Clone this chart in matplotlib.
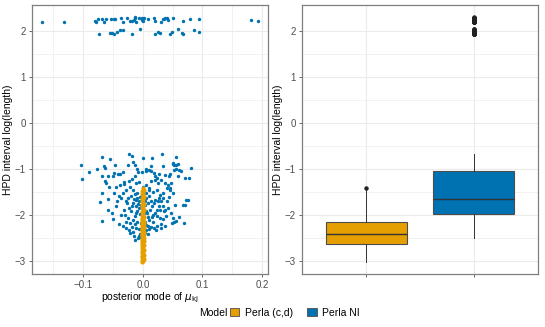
import matplotlib.pyplot as plt
from matplotlib.patches import Patch
import numpy as np

plt.rcParams['font.family'] = ['Liberation Sans', 'DejaVu Sans']
plt.rcParams['mathtext.fontset'] = 'dejavusans'

# Perla NI: posterior modes (x) and log HPD length (y)
ni_upper_x = [-0.169, -0.132, -0.081, -0.079, -0.076, -0.073, -0.069, -0.066, -0.061, -0.055,
              -0.054, -0.052, -0.049, -0.048, -0.046, -0.044, -0.038, -0.036, -0.034, -0.033,
              -0.026, -0.022, -0.018, -0.018, -0.015, -0.014, -0.013, -0.011, -0.006, -0.005,
              -0.002, -0.001, 0.001, 0.002, 0.009, 0.019, 0.020, 0.021, 0.026, 0.029,
              0.031, 0.034, 0.036, 0.038, 0.040, 0.042, 0.046, 0.049, 0.050, 0.059,
              0.066, 0.067, 0.067, 0.079, 0.086, 0.094, 0.095, 0.182, 0.194]
ni_upper_y = [2.20, 2.20, 2.22, 2.19, 2.27, 1.94, 2.27, 2.20, 2.26, 1.96,
              2.27, 1.95, 1.94, 2.27, 2.27, 1.97, 2.03, 2.28, 2.19, 2.03,
              2.29, 2.22, 1.94, 2.22, 2.24, 2.28, 2.30, 2.20, 2.28, 2.04,
              2.28, 2.24, 2.22, 2.28, 2.27, 2.29, 1.94, 2.21, 1.98, 1.95,
              2.20, 2.27, 2.25, 2.28, 2.29, 2.24, 1.94, 1.98, 2.28, 2.04,
              1.96, 1.94, 2.21, 2.27, 2.03, 1.98, 2.27, 2.23, 2.21]

# lower cluster, in (x, y) pairs
ni_lower = [
    (-0.104, -0.92), (-0.102, -1.21), (-0.090, -1.07), (-0.077, -0.99), (-0.068, -0.74),
    (-0.066, -0.94), (-0.064, -0.98), (-0.055, -0.78), (-0.068, -1.14), (-0.059, -1.14),
    (-0.048, -1.09), (-0.047, -0.91), (-0.050, -1.16), (-0.041, -1.10), (-0.038, -1.11),
    (-0.034, -1.07), (-0.032, -1.29), (-0.025, -0.91), (-0.024, -0.68), (-0.018, -0.72),
    (-0.016, -0.84), (-0.014, -0.91), (-0.013, -1.15), (-0.009, -1.00), (-0.008, -1.07),
    (0.000, -0.75), (-0.001, -1.07), (0.005, -1.00), (0.006, -1.05), (0.010, -1.03),
    (0.014, -1.05), (0.014, -0.93), (0.016, -0.77), (0.018, -1.09), (0.021, -1.14),
    (0.023, -1.19), (0.027, -1.10), (0.032, -0.68), (0.034, -0.93), (0.037, -1.13),
    (0.044, -1.14), (0.045, -1.10), (0.047, -1.30), (0.050, -0.86), (0.052, -0.91),
    (0.053, -1.01), (0.055, -0.73), (0.056, -1.00), (0.059, -0.89), (0.059, -1.14),
    (0.061, -1.02), (0.064, -1.05), (0.071, -1.20), (0.077, -1.19), (0.081, -0.97),
    (0.051, -0.88), (0.056, -0.91),
    (-0.064, -1.25), (-0.062, -1.30), (-0.056, -1.38), (-0.069, -1.52), (-0.072, -1.72),
    (-0.059, -1.65), (-0.058, -1.88), (-0.068, -2.12), (-0.050, -2.09), (-0.043, -1.70),
    (-0.040, -1.58), (-0.034, -1.52), (-0.028, -1.45), (-0.021, -1.38), (-0.017, -1.45),
    (-0.020, -1.59), (-0.014, -1.55), (-0.009, -1.52), (-0.027, -1.74), (-0.031, -1.88),
    (-0.037, -1.99), (-0.040, -2.19), (-0.034, -2.23), (-0.028, -2.28), (-0.023, -2.32),
    (-0.017, -2.36), (-0.011, -2.27), (-0.008, -2.50), (-0.006, -2.45), (-0.009, -2.14),
    (-0.014, -2.03), (-0.020, -1.92), (-0.025, -2.07), (-0.029, -2.14), (-0.021, -2.17),
    (-0.017, -2.10), (-0.012, -1.96), (-0.011, -1.81), (-0.007, -1.85), (-0.006, -1.70),
    (-0.010, -1.63), (0.006, -1.34), (0.011, -1.41), (0.017, -1.49), (0.023, -1.45),
    (0.028, -1.56), (0.034, -1.52), (0.040, -1.41), (0.045, -1.41), (0.046, -1.45),
    (0.051, -1.52), (0.067, -1.78), (0.071, -1.78), (0.073, -1.67), (0.075, -1.67),
    (0.054, -1.78), (0.048, -1.96), (0.050, -2.07), (0.039, -2.03), (0.034, -2.09),
    (0.028, -2.07), (0.024, -2.03), (0.017, -2.14), (0.014, -2.25), (0.010, -2.30),
    (0.006, -2.32), (0.006, -2.21), (0.011, -2.10), (0.017, -1.99), (0.023, -1.88),
    (0.008, -1.74), (0.011, -1.59), (0.005, -1.63), (0.006, -1.92), (0.001, -1.85),
    (0.055, -2.12), (0.060, -2.05), (0.069, -2.17), (0.049, -2.17), (0.052, -2.15),
    (0.038, -2.23), (0.029, -1.90), (0.025, -1.70), (0.020, -1.67), (0.034, -1.81),
    (0.040, -1.70), (0.042, -1.85), (0.035, -1.92), (-0.048, -1.52), (-0.045, -1.38),
    (-0.038, -1.34), (-0.031, -1.32), (-0.024, -1.27), (-0.018, -1.22), (-0.011, -1.30),
    (-0.006, -1.29), (0.014, -1.27), (0.020, -1.23), (0.025, -1.30), (0.031, -1.23),
    (0.037, -1.30), (0.042, -1.34), (-0.021, -2.39), (-0.015, -2.45), (-0.013, -2.54),
    (-0.006, -2.30), (-0.003, -2.17), (0.008, -2.23), (0.019, -2.28), (0.022, -2.32),
    (0.024, -2.23), (0.031, -2.20), (-0.029, -1.70), (-0.025, -1.63), (-0.018, -1.81),
    (-0.016, -1.74), (-0.010, -1.92), (0.015, -1.81), (0.018, -1.74), (0.027, -1.63),
    (0.031, -1.70), (0.006, -1.52), (0.010, -1.45), (0.000, -1.38), (-0.004, -1.60),
    (-0.003, -1.78), (-0.004, -1.98), (-0.002, -2.08), (0.003, -2.15), (-0.005, -2.40),
    (0.004, -2.38), (0.003, -1.70), (-0.001, -1.55), (0.007, -1.95), (0.012, -1.88),
    (-0.008, -1.75), (-0.012, -1.68), (0.002, -2.25), (-0.002, -2.33), (0.009, -2.05),
    (-0.045, -1.80), (-0.052, -1.95), (-0.036, -1.62), (-0.030, -2.00), (-0.024, -1.84),
    (-0.019, -2.25), (-0.015, -1.66), (-0.013, -2.20), (0.004, -1.78), (0.008, -2.42),
    (0.013, -1.69), (0.016, -2.05), (0.021, -1.95), (0.027, -1.80), (0.033, -1.62),
    (0.038, -1.90), (0.044, -1.60), (0.030, -2.28), (-0.003, -2.47), (0.002, -1.95),
]
ni_lower_x = [p[0] for p in ni_lower]
ni_lower_y = [p[1] for p in ni_lower]

# Perla (c,d): modes pinned at zero, lengths along a vertical strip
cd_y = [-1.42, -1.45, -1.48, -1.51, -1.54, -1.57, -1.60, -1.63, -1.66, -1.69,
        -1.72, -1.75, -1.78, -1.81, -1.84, -1.87, -1.90, -1.93, -1.96, -1.99,
        -2.02, -2.04, -2.06, -2.08, -2.10, -2.12, -2.14, -2.16, -2.17, -2.18,
        -2.20, -2.21, -2.22, -2.24, -2.25, -2.27, -2.28, -2.30, -2.31, -2.33,
        -2.34, -2.36, -2.37, -2.39, -2.40, -2.41, -2.42, -2.43, -2.45, -2.46,
        -2.48, -2.49, -2.51, -2.52, -2.54, -2.55, -2.57, -2.58, -2.60, -2.62,
        -2.64, -2.66, -2.68, -2.70, -2.72, -2.74, -2.76, -2.78, -2.80, -2.82,
        -2.84, -2.86, -2.88, -2.90, -2.92, -2.94, -2.96, -2.98, -3.00, -3.01]
cd_x = [0.0, 0.0012, -0.0012, 0.0006, -0.0006, 0.0, 0.0012, -0.0012, 0.0006, -0.0006] * 8

# box summaries
models = ['Perla (c,d)', 'Perla NI']
colors = ['#E69F00', '#0072B2']
box_q1 = [-2.62, -1.97]
box_med = [-2.42, -1.65]
box_q3 = [-2.15, -1.05]
box_lo = [-3.01, -2.50]
box_hi = [-1.45, -0.67]
cd_fliers = [-1.42]

fig = plt.figure(figsize=(5.45, 3.27), dpi=100)
axl = fig.add_axes([32/545, 1 - 274/327, 236/545, 269/327])
axr = fig.add_axes([302/545, 1 - 274/327, 236/545, 269/327])

grid_c = '#EBEBEB'
for ax in (axl, axr):
    ax.set_facecolor('white')
    ax.set_axisbelow(True)
    for s in ax.spines.values():
        s.set_color('#7F7F7F')
        s.set_linewidth(0.9)
    ax.tick_params(colors='#4D4D4D', labelsize=7, length=2.5, width=0.6, pad=2)
    ax.set_ylim(-3.28, 2.565)
    ax.set_yticks([-3, -2, -1, 0, 1, 2])
    ax.set_yticklabels(['\u22123', '\u22122', '\u22121', '0', '1', '2'])
    ax.set_yticks([-2.5, -1.5, -0.5, 0.5, 1.5], minor=True)
    ax.tick_params(which='minor', length=0)
    ax.grid(which='major', color=grid_c, lw=0.8)
    ax.grid(which='minor', axis='y', color=grid_c, lw=0.45)
    ax.set_ylabel('HPD interval log(length)', fontsize=7.5, labelpad=1)

# left panel: scatter
axl.scatter(ni_upper_x + ni_lower_x, ni_upper_y + ni_lower_y, s=6, color=colors[1], lw=0)
axl.scatter(cd_x, cd_y, s=9, color=colors[0], lw=0)
axl.set_xlim(-0.186, 0.21)
axl.set_xticks([-0.1, 0.0, 0.1, 0.2])
axl.set_xticklabels(['\u22120.1', '0.0', '0.1', '0.2'])
axl.set_xticks([-0.15, -0.05, 0.05, 0.15], minor=True)
axl.grid(which='minor', axis='x', color=grid_c, lw=0.45)
axl.set_xlabel(r'posterior mode of $\mu_{\mathrm{kj}}$', fontsize=7.5, labelpad=0)

# right panel: boxplots
stats = []
fliers = [cd_fliers, ni_upper_y]
for i in range(2):
    stats.append(dict(med=box_med[i], q1=box_q1[i], q3=box_q3[i],
                      whislo=box_lo[i], whishi=box_hi[i], fliers=fliers[i]))
bp = axr.bxp(stats, positions=[1, 2], widths=0.75, patch_artist=True, showcaps=False,
             boxprops=dict(edgecolor='#4D4D4D', lw=0.8),
             medianprops=dict(color='#333333', lw=1.0),
             whiskerprops=dict(color='#333333', lw=0.7),
             flierprops=dict(marker='o', markersize=2.2, markerfacecolor='#222222',
                             markeredgecolor='#222222'))
for patch, c in zip(bp['boxes'], colors):
    patch.set_facecolor(c)
axr.set_xlim(0.4, 2.6)
axr.set_xticks([1, 2])
axr.set_xticklabels(['', ''])

# legend along the bottom
fig.text(227/545, 1 - 313/327, 'Model', fontsize=7.5, ha='right', va='center')
handles = [Patch(facecolor=c, edgecolor='#4D4D4D', lw=0.6) for c in colors]
fig.legend(handles, models, loc='center left', bbox_to_anchor=(230/545, 1 - 313/327),
           ncol=2, frameon=False, fontsize=7.5, handlelength=0.9, handleheight=0.8,
           handletextpad=0.5, columnspacing=1.4, borderpad=0, borderaxespad=0)

fig.savefig('out.png', dpi=100)
